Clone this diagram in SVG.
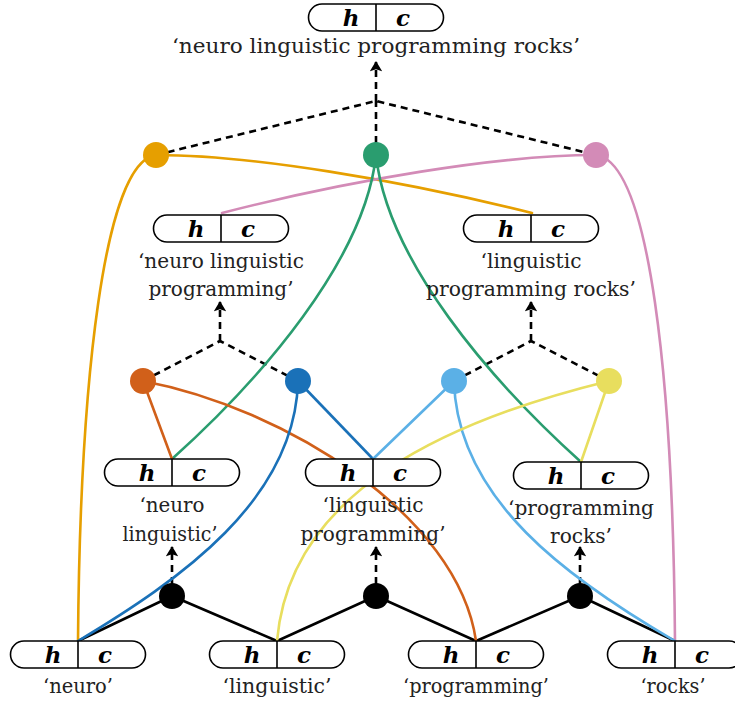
<svg xmlns="http://www.w3.org/2000/svg" width="735" height="702" viewBox="0 0 735 702">
  <style>
    .pill { fill: #ffffff; stroke: #000; stroke-width: 1.6; }
    .div { stroke: #000; stroke-width: 1.6; }
    .hc { font-family: "DejaVu Serif", "Liberation Serif", serif; font-weight: bold; font-style: italic; font-size: 23px; text-anchor: middle; fill: #000; }
    .lbl { font-family: "DejaVu Serif", "Liberation Serif", serif; font-size: 21px; text-anchor: middle; fill: #222; }
    .dash { fill: none; stroke: #000; stroke-width: 2.6; stroke-dasharray: 7 5; }
    .solid { fill: none; stroke: #000; stroke-width: 2.6; stroke-linejoin: round; }
    .c { fill: none; stroke-width: 2.6; stroke-linecap: round; }
  </style>
  <defs>
    <marker id="arrow" viewBox="0 0 10 12" refX="9" refY="6" markerWidth="4.8" markerHeight="4.8" orient="auto" markerUnits="strokeWidth">
      <path d="M0,0 L10,6 L0,12 L2,6 Z" fill="#000"/>
    </marker>
    <g id="hcpill">
      <rect class="pill" x="-67.5" y="0" width="135" height="27" rx="13.5" ry="13.5"/>
      <line class="div" x1="0" y1="0" x2="0" y2="27"/>
      <text class="hc" x="-25" y="21.5">h</text>
      <text class="hc" x="27" y="21.5">c</text>
    </g>
  </defs>

  <!-- connectors -->
  <g id="connectors">
    <!-- composition dashes with arrows -->
    <path class="dash" d="M156,155 L376,101 L596,155 M376,155 L376,101"/>
    <path class="dash" d="M376,101 L376,62" marker-end="url(#arrow)"/>
    <path class="dash" d="M143,381 L220,341 L298,381"/>
    <path class="dash" d="M220,341 L220,302" marker-end="url(#arrow)"/>
    <path class="dash" d="M454,381 L531,341 L609,381"/>
    <path class="dash" d="M531,341 L531,302" marker-end="url(#arrow)"/>
    <path class="dash" d="M172,596 L172,547" marker-end="url(#arrow)"/>
    <path class="dash" d="M376,596 L376,547" marker-end="url(#arrow)"/>
    <path class="dash" d="M580,596 L580,547" marker-end="url(#arrow)"/>

    <!-- leaf-level solid links -->
    <path class="solid" d="M78,641 L172,596 L277,641 L376,596 L476,641 L580,596 L675,641"/>

    <!-- colored child links -->
    <path class="c" stroke="#E69F00" d="M156,155 C104,162 80,380 78,641"/>
    <path class="c" stroke="#E69F00" d="M156,155 C250,155 400,180 532,213"/>
    <path class="c" stroke="#D38BB7" d="M596,155 C500,155 350,180 222,213"/>
    <path class="c" stroke="#D38BB7" d="M596,155 C650,162 673,380 675,641"/>
    <path class="c" stroke="#2A9D6F" d="M376,155 C365,260 260,380 172,459"/>
    <path class="c" stroke="#2A9D6F" d="M376,155 C387,260 490,380 581,462"/>

    <path class="c" stroke="#D1601A" d="M143,381 L172,459"/>
    <path class="c" stroke="#D1601A" d="M143,381 C285,408 458,515 476,641"/>
    <path class="c" stroke="#1A71B8" d="M298,381 L373,459"/>
    <path class="c" stroke="#1A71B8" d="M298,381 C295,500 180,580 78,641"/>
    <path class="c" stroke="#5BB0E6" d="M454,381 L373,459"/>
    <path class="c" stroke="#5BB0E6" d="M454,381 C457,500 570,580 675,641"/>
    <path class="c" stroke="#E8DE5E" d="M609,381 L581,462"/>
    <path class="c" stroke="#E8DE5E" d="M609,381 C450,420 290,490 277,641"/>
  </g>

  <!-- composition nodes -->
  <g id="n-top-a"><circle cx="156" cy="155" r="13" fill="#E69F00"/></g>
  <g id="n-top-b"><circle cx="376" cy="155" r="13" fill="#2A9D6F"/></g>
  <g id="n-top-c"><circle cx="596" cy="155" r="13" fill="#D38BB7"/></g>
  <g id="n-mid-a"><circle cx="143" cy="381" r="13" fill="#D1601A"/></g>
  <g id="n-mid-b"><circle cx="298" cy="381" r="13" fill="#1A71B8"/></g>
  <g id="n-mid-c"><circle cx="454" cy="381" r="13" fill="#5BB0E6"/></g>
  <g id="n-mid-d"><circle cx="609" cy="381" r="13" fill="#E8DE5E"/></g>
  <g id="n-low-a"><circle cx="172" cy="596" r="13" fill="#000"/></g>
  <g id="n-low-b"><circle cx="376" cy="596" r="13" fill="#000"/></g>
  <g id="n-low-c"><circle cx="580" cy="596" r="13" fill="#000"/></g>

  <!-- phrase nodes -->
  <g id="p-nlpr">
    <use href="#hcpill" x="376" y="4"/>
    <text class="lbl" x="376" y="53" textLength="408" lengthAdjust="spacingAndGlyphs">‘neuro linguistic programming rocks’</text>
  </g>
  <g id="p-nlp">
    <use href="#hcpill" x="221" y="215"/>
    <text class="lbl" x="221" y="268" textLength="166" lengthAdjust="spacingAndGlyphs">‘neuro linguistic</text>
    <text class="lbl" x="221" y="296" textLength="145" lengthAdjust="spacingAndGlyphs">programming’</text>
  </g>
  <g id="p-lpr">
    <use href="#hcpill" x="531" y="215"/>
    <text class="lbl" x="531" y="268" textLength="101" lengthAdjust="spacingAndGlyphs">‘linguistic</text>
    <text class="lbl" x="531" y="296" textLength="210" lengthAdjust="spacingAndGlyphs">programming rocks’</text>
  </g>
  <g id="p-nl">
    <use href="#hcpill" x="172" y="459"/>
    <text class="lbl" x="172" y="512" textLength="65" lengthAdjust="spacingAndGlyphs">‘neuro</text>
    <text class="lbl" x="170" y="541" textLength="95" lengthAdjust="spacingAndGlyphs">linguistic’</text>
  </g>
  <g id="p-lp">
    <use href="#hcpill" x="373" y="459"/>
    <text class="lbl" x="373" y="512" textLength="101" lengthAdjust="spacingAndGlyphs">‘linguistic</text>
    <text class="lbl" x="373" y="541" textLength="145" lengthAdjust="spacingAndGlyphs">programming’</text>
  </g>
  <g id="p-pr">
    <use href="#hcpill" x="581" y="462"/>
    <text class="lbl" x="581" y="515" textLength="146" lengthAdjust="spacingAndGlyphs">‘programming</text>
    <text class="lbl" x="581" y="543" textLength="62" lengthAdjust="spacingAndGlyphs">rocks’</text>
  </g>
  <g id="w-neuro">
    <use href="#hcpill" x="78" y="641"/>
    <text class="lbl" x="78" y="693" textLength="70" lengthAdjust="spacingAndGlyphs">‘neuro’</text>
  </g>
  <g id="w-linguistic">
    <use href="#hcpill" x="277" y="641"/>
    <text class="lbl" x="277" y="693" textLength="109" lengthAdjust="spacingAndGlyphs">‘linguistic’</text>
  </g>
  <g id="w-programming">
    <use href="#hcpill" x="476" y="641"/>
    <text class="lbl" x="476" y="693" textLength="146" lengthAdjust="spacingAndGlyphs">‘programming’</text>
  </g>
  <g id="w-rocks">
    <use href="#hcpill" x="675" y="641"/>
    <text class="lbl" x="673" y="693" textLength="65" lengthAdjust="spacingAndGlyphs">‘rocks’</text>
  </g>
</svg>
